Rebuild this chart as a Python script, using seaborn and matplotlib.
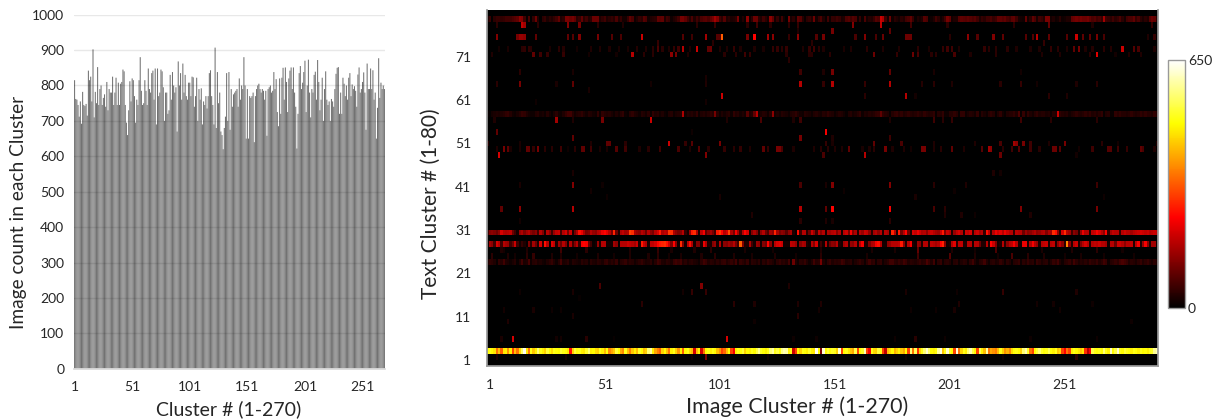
# import libraries
import numpy as np
import matplotlib
matplotlib.use('Agg')
import matplotlib.pyplot as plt
from matplotlib.colors import LinearSegmentedColormap
import seaborn as sns

# image count per cluster
image_counts = [
    815, 762, 760, 745, 712, 755, 692, 782, 745, 742,
    748, 715, 842, 815, 825, 755, 902, 710, 782, 750,
    852, 745, 790, 800, 745, 765, 775, 740, 810, 730,
    790, 780, 780, 825, 745, 780, 822, 745, 808, 745,
    805, 810, 845, 840, 745, 695, 660, 730, 812, 755,
    820, 815, 770, 695, 760, 745, 815, 880, 785, 745,
    750, 815, 785, 745, 848, 790, 780, 835, 842, 760,
    848, 690, 848, 770, 780, 845, 840, 795, 700, 780,
    780, 720, 730, 830, 760, 838, 800, 780, 795, 670,
    868, 800, 835, 760, 862, 780, 830, 770, 760, 808,
    808, 770, 825, 823, 740, 770, 822, 700, 790, 760,
    792, 690, 755, 745, 770, 735, 770, 835, 843, 770,
    745, 690, 907, 680, 838, 750, 780, 670, 660, 620,
    680, 712, 835, 700, 838, 675, 790, 740, 775, 780,
    785, 790, 740, 820, 760, 800, 790, 880, 800, 650,
    790, 650, 770, 765, 770, 780, 640, 770, 790, 800,
    805, 790, 780, 790, 785, 760, 785, 658, 790, 795,
    800, 780, 785, 838, 790, 818, 725, 685, 820, 720,
    822, 850, 760, 851, 810, 725, 820, 842, 851, 790,
    851, 780, 740, 622, 720, 835, 855, 790, 808, 838,
    870, 725, 800, 873, 780, 710, 790, 780, 830, 839,
    760, 872, 810, 730, 760, 822, 700, 790, 840, 760,
    745, 755, 700, 762, 755, 740, 790, 833, 850, 852,
    720, 780, 720, 822, 805, 770, 800, 760, 822, 835,
    770, 803, 790, 798, 785, 740, 831, 851, 780, 790,
    810, 837, 780, 675, 862, 790, 790, 848, 790, 843,
    760, 780, 650, 737, 877, 765, 808, 790, 800, 790,
]

n_rows = 60
n_cols = 292

# rows of the heat map that are filled nearly all the way across (row 0 is the top row)
row_01 = [
    30, 50, 0, 40, 50, 50, 45, 50, 60, 60, 60, 70, 80, 90, 130, 120, 60, 10, 70, 0,
    45, 100, 30, 0, 40, 50, 25, 40, 30, 45, 60, 90, 30, 40, 110, 110, 100, 110, 90, 40,
    50, 90, 40, 60, 30, 40, 100, 100, 100, 30, 45, 60, 30, 40, 50, 35, 70, 30, 50, 20,
    20, 50, 90, 70, 15, 30, 50, 40, 80, 70, 20, 30, 35, 40, 90, 85, 90, 30, 60, 50,
    15, 30, 40, 60, 110, 110, 90, 60, 35, 70, 30, 60, 40, 70, 80, 85, 70, 90, 110, 150,
    120, 60, 40, 80, 30, 40, 25, 30, 40, 110, 10, 30, 10, 130, 15, 40, 100, 100, 40, 30,
    60, 40, 20, 130, 90, 20, 50, 15, 60, 20, 0, 110, 25, 40, 15, 90, 80, 35, 10, 40,
    50, 30, 100, 20, 50, 70, 30, 10, 60, 15, 50, 45, 60, 50, 25, 30, 70, 80, 60, 80,
    70, 15, 50, 10, 70, 20, 35, 30, 50, 80, 70, 190, 160, 60, 20, 100, 15, 40, 30, 20,
    40, 30, 60, 70, 90, 50, 10, 30, 20, 30, 80, 70, 10, 15, 30, 60, 40, 15, 30, 60,
    110, 90, 20, 30, 30, 80, 90, 85, 80, 90, 80, 70, 80, 60, 30, 50, 40, 60, 60, 70,
    50, 60, 90, 90, 80, 90, 70, 60, 85, 90, 60, 25, 20, 15, 90, 20, 40, 90, 70, 25,
    60, 50, 30, 110, 110, 20, 30, 15, 20, 40, 15, 20, 30, 30, 90, 100, 110, 100, 110, 100,
    100, 110, 90, 70, 80, 60, 70, 50, 150, 60, 50, 40, 60, 40, 50, 70, 40, 20, 60, 70,
    70, 90, 50, 70, 40, 25, 40, 30, 80, 100, 90, 40,
]
row_17 = [
    10, 5, 20, 25, 30, 25, 30, 35, 45, 50, 35, 20, 15, 25, 35, 50, 45, 30, 20, 15,
    15, 30, 35, 20, 25, 15, 35, 20, 10, 25, 40, 20, 15, 30, 45, 60, 60, 35, 20, 30,
    35, 45, 30, 20, 35, 30, 20, 15, 45, 15, 45, 35, 30, 35, 25, 15, 30, 20, 35, 45,
    15, 10, 35, 45, 30, 25, 15, 35, 30, 20, 35, 15, 45, 30, 35, 20, 30, 15, 10, 30,
    35, 15, 25, 30, 35, 160, 20, 35, 30, 35, 25, 45, 15, 30, 35, 25, 35, 45, 35, 110,
    35, 15, 30, 20, 30, 35, 15, 45, 30, 35, 20, 30, 20, 80, 30, 35, 90, 170, 20, 25,
    35, 30, 15, 35, 130, 20, 30, 20, 35, 30, 25, 15, 30, 35, 45, 30, 20, 15, 35, 30,
    25, 15, 30, 35, 25, 20, 35, 30, 45, 35, 30, 15, 25, 35, 30, 20, 10, 30, 35, 20,
    25, 35, 45, 15, 30, 25, 35, 30, 35, 45, 50, 90, 45, 35, 30, 10, 35, 45, 50, 35,
    45, 30, 35, 45, 35, 30, 35, 45, 35, 30, 45, 35, 30, 35, 45, 10, 35, 30, 45, 15,
    15, 35, 35, 45, 35, 10, 45, 45, 15, 25, 35, 30, 20, 45, 10, 35, 25, 15, 35, 45,
    35, 10, 30, 45, 20, 10, 30, 35, 35, 45, 30, 70, 10, 50, 15, 45, 30, 20, 35, 45,
    30, 35, 35, 25, 30, 15, 35, 30, 190, 45, 35, 30, 35, 20, 30, 35, 45, 35, 30, 35,
    45, 35, 45, 30, 35, 25, 35, 45, 10, 30, 35, 10, 10, 45, 35, 45, 35, 35, 30, 35,
    45, 35, 30, 35, 45, 35, 45, 35, 35, 30, 45, 35,
]
row_37 = [
    60, 120, 130, 120, 100, 130, 200, 170, 160, 170, 180, 100, 60, 20, 140, 160, 120, 150, 170, 130,
    110, 130, 60, 170, 120, 30, 170, 130, 60, 140, 180, 190, 70, 170, 200, 110, 190, 30, 110, 160,
    250, 220, 160, 110, 120, 170, 140, 130, 170, 180, 220, 240, 210, 170, 110, 270, 100, 30, 160, 180,
    150, 160, 300, 280, 160, 140, 130, 170, 150, 100, 170, 130, 110, 170, 200, 260, 160, 180, 170, 290,
    280, 160, 130, 110, 120, 170, 50, 20, 140, 260, 280, 160, 30, 180, 230, 90, 130, 150, 110, 60,
    260, 290, 240, 170, 200, 300, 160, 110, 230, 150, 60, 170, 240, 200, 20, 120, 160, 120, 30, 130,
    170, 100, 70, 150, 130, 270, 150, 110, 130, 120, 80, 130, 150, 30, 10, 250, 60, 170, 170, 40,
    100, 190, 140, 60, 180, 130, 170, 30, 160, 150, 170, 180, 120, 160, 20, 170, 190, 110, 230, 120,
    160, 30, 170, 140, 190, 180, 130, 40, 150, 170, 130, 170, 30, 170, 150, 20, 270, 170, 30, 260,
    110, 170, 240, 100, 30, 200, 180, 220, 190, 160, 170, 130, 180, 190, 170, 150, 140, 190, 260, 120,
    190, 170, 30, 140, 180, 200, 170, 30, 190, 180, 200, 40, 170, 190, 150, 170, 50, 250, 180, 40,
    170, 220, 190, 210, 170, 220, 190, 170, 170, 50, 180, 170, 170, 100, 150, 120, 130, 150, 170, 130,
    140, 160, 170, 120, 160, 150, 280, 250, 130, 40, 200, 280, 170, 150, 60, 130, 110, 30, 140, 220,
    170, 170, 30, 180, 190, 230, 200, 170, 130, 240, 50, 150, 180, 170, 170, 50, 170, 190, 170, 170,
    150, 170, 180, 190, 200, 190, 180, 190, 170, 180, 190, 180,
]
row_39 = [
    20, 150, 130, 60, 200, 170, 60, 170, 150, 140, 60, 100, 190, 60, 20, 50, 30, 10, 120, 40,
    150, 100, 30, 200, 40, 250, 170, 10, 210, 180, 30, 150, 100, 170, 120, 20, 170, 60, 120, 170,
    50, 230, 240, 230, 100, 60, 10, 20, 140, 30, 170, 170, 20, 20, 20, 150, 130, 10, 170, 170,
    170, 190, 180, 170, 150, 190, 30, 260, 190, 160, 30, 180, 180, 200, 240, 260, 270, 280, 250, 190,
    120, 240, 130, 20, 280, 120, 20, 170, 250, 160, 20, 120, 120, 30, 220, 160, 30, 20, 120, 140,
    20, 170, 20, 130, 120, 150, 130, 170, 110, 60, 330, 120, 30, 30, 160, 60, 20, 140, 130, 20,
    120, 100, 240, 130, 20, 170, 200, 210, 190, 20, 20, 20, 180, 170, 140, 10, 130, 160, 150, 30,
    20, 170, 120, 200, 20, 60, 20, 170, 30, 100, 130, 120, 170, 30, 20, 150, 170, 30, 140, 130,
    170, 30, 170, 230, 30, 30, 120, 160, 170, 230, 250, 170, 20, 20, 130, 140, 170, 170, 170, 180,
    260, 130, 30, 170, 230, 30, 20, 140, 130, 30, 170, 170, 30, 180, 170, 150, 170, 240, 270, 130,
    20, 30, 170, 210, 40, 170, 180, 30, 30, 170, 170, 20, 170, 170, 100, 30, 30, 170, 30, 240,
    190, 120, 20, 30, 170, 40, 130, 170, 180, 230, 170, 30, 20, 220, 220, 30, 170, 230, 170, 140,
    30, 170, 180, 190, 30, 170, 180, 30, 130, 180, 130, 40, 370, 130, 30, 170, 190, 30, 120, 170,
    200, 170, 30, 170, 180, 170, 190, 170, 170, 150, 20, 170, 170, 100, 190, 190, 170, 130, 170, 170,
    180, 30, 170, 230, 30, 140, 230, 130, 30, 150, 150, 20,
]
row_42 = [
    30, 45, 40, 30, 10, 45, 35, 60, 30, 25, 15, 25, 35, 10, 30, 60, 25, 30, 65, 15,
    35, 40, 25, 30, 20, 15, 30, 40, 50, 30, 15, 35, 65, 25, 30, 40, 15, 35, 30, 25,
    20, 40, 30, 35, 15, 40, 30, 25, 40, 35, 25, 45, 50, 30, 40, 30, 50, 15, 35, 40,
    50, 30, 40, 35, 20, 30, 40, 50, 35, 25, 30, 40, 15, 35, 60, 50, 30, 25, 40, 35,
    25, 50, 60, 50, 60, 30, 40, 25, 35, 40, 30, 25, 15, 40, 60, 50, 30, 40, 35, 25,
    40, 30, 45, 50, 30, 40, 50, 35, 60, 20, 50, 40, 30, 50, 15, 40, 35, 25, 40, 15,
    40, 30, 50, 40, 30, 15, 40, 50, 35, 40, 30, 60, 10, 100, 30, 15, 40, 35, 50, 30,
    15, 30, 60, 35, 40, 110, 30, 15, 40, 50, 30, 40, 35, 40, 60, 50, 30, 35, 40, 15,
    30, 40, 50, 35, 15, 40, 60, 40, 45, 15, 40, 45, 15, 30, 40, 60, 60, 40, 35, 50,
    40, 60, 50, 30, 40, 35, 30, 40, 50, 35, 40, 70, 50, 30, 60, 10, 40, 50, 15, 35,
    40, 30, 10, 35, 40, 15, 30, 40, 35, 15, 40, 60, 30, 15, 35, 40, 60, 30, 15, 35,
    40, 25, 30, 50, 35, 15, 40, 30, 10, 35, 40, 50, 15, 40, 30, 50, 35, 40, 15, 50,
    40, 25, 35, 40, 15, 30, 50, 40, 60, 30, 15, 35, 40, 50, 30, 60, 40, 25, 35, 30,
    40, 30, 50, 40, 35, 50, 30, 40, 60, 50, 15, 35, 40, 50, 40, 60, 70, 60, 50, 30,
    40, 35, 25, 40, 50, 30, 40, 50, 35, 25, 40, 30,
]
row_57 = [
    490, 500, 480, 460, 350, 420, 330, 460, 470, 380, 470, 300, 420, 350, 450, 550, 640, 460, 350, 500,
    430, 470, 560, 500, 470, 440, 520, 480, 450, 500, 490, 480, 520, 500, 490, 460, 250, 440, 520, 490,
    500, 470, 460, 510, 560, 470, 480, 450, 440, 500, 470, 420, 490, 370, 400, 430, 520, 480, 400, 370,
    500, 420, 360, 430, 470, 420, 510, 480, 420, 440, 560, 590, 470, 400, 360, 330, 440, 480, 420, 350,
    470, 500, 440, 380, 470, 330, 480, 500, 450, 420, 200, 420, 470, 200, 350, 480, 500, 470, 500, 480,
    420, 380, 300, 340, 420, 480, 300, 230, 470, 500, 490, 520, 440, 480, 470, 500, 480, 530, 580, 510,
    490, 470, 500, 560, 590, 500, 530, 490, 570, 600, 590, 470, 500, 190, 300, 480, 440, 500, 490, 470,
    510, 470, 460, 640, 480, 120, 620, 480, 520, 490, 510, 500, 440, 620, 300, 480, 500, 460, 430, 400,
    530, 300, 480, 510, 600, 300, 230, 500, 450, 440, 520, 500, 300, 180, 420, 450, 480, 410, 440, 470,
    430, 400, 480, 300, 560, 350, 540, 280, 440, 500, 560, 620, 550, 480, 470, 490, 590, 630, 430, 500,
    620, 510, 480, 300, 620, 350, 440, 500, 470, 560, 600, 530, 480, 300, 540, 470, 420, 590, 350, 400,
    380, 360, 420, 500, 440, 380, 410, 370, 450, 490, 500, 480, 440, 560, 600, 510, 350, 300, 480, 520,
    560, 510, 490, 500, 540, 490, 470, 500, 430, 450, 300, 240, 350, 300, 470, 500, 480, 460, 430, 460,
    280, 170, 230, 530, 500, 490, 500, 480, 560, 500, 470, 610, 480, 530, 620, 500, 480, 520, 500, 490,
    470, 500, 490, 470, 500, 480, 490, 470, 500, 510, 580, 600,
]

# rows with only a few lit cells, as (column, value)
row_02 = [(4, 40), (15, 180), (16, 150), (22, 40), (35, 120), (40, 110), (48, 40), (59, 30), (91, 40), (99, 50),
          (113, 40), (117, 60), (123, 40), (131, 40), (135, 50), (159, 120), (171, 180), (184, 60), (200, 40),
          (229, 40), (244, 90), (263, 30), (289, 50)]
row_03 = [(135, 30), (150, 110), (175, 90)]
row_04 = [(4, 120), (13, 110), (14, 140), (15, 140), (16, 130), (21, 90), (35, 90), (37, 80), (40, 120), (48, 110),
          (54, 80), (58, 70), (67, 190), (85, 80), (89, 60), (95, 150), (100, 80), (101, 80), (102, 330), (113, 110),
          (116, 240), (122, 150), (124, 130), (131, 50), (135, 130), (143, 80), (146, 110), (160, 70), (164, 120),
          (169, 70), (172, 100), (182, 100), (183, 100), (184, 100), (201, 40), (209, 130), (213, 80), (220, 120),
          (224, 90), (234, 80), (237, 80), (239, 170), (244, 90), (252, 80), (256, 190), (259, 90), (262, 90),
          (265, 110), (268, 70), (287, 30), (290, 50)]
row_05 = [(74, 50), (98, 40), (141, 40), (242, 50)]
row_06 = [(5, 20), (9, 25), (15, 40), (16, 45), (18, 45), (19, 40), (27, 25), (31, 40), (33, 35), (39, 20), (45, 30),
          (49, 30), (53, 30), (57, 25), (61, 25), (65, 35), (69, 30), (72, 40), (74, 70), (76, 40), (79, 30), (81, 50),
          (83, 60), (85, 170), (88, 30), (91, 190), (96, 90), (97, 100), (101, 30), (104, 30), (107, 50), (110, 30),
          (116, 30), (120, 25), (124, 50), (126, 50), (128, 40), (130, 50), (137, 30), (140, 50), (142, 60), (144, 40),
          (146, 30), (155, 25), (158, 30), (165, 40), (172, 30), (179, 30), (187, 40), (192, 25), (198, 50), (200, 60),
          (202, 60), (205, 30), (216, 50), (218, 40), (221, 40), (226, 40), (230, 30), (236, 30), (240, 30), (245, 50),
          (248, 40), (252, 30), (255, 90), (257, 110), (260, 30), (263, 35), (268, 40), (271, 35), (276, 190), (281, 80),
          (283, 70), (290, 30)]
row_07 = [(2, 30), (20, 90), (23, 60), (26, 50), (33, 50), (44, 20), (56, 20), (63, 170), (68, 40), (72, 40), (80, 130),
          (82, 110), (87, 30), (103, 40), (108, 40), (112, 60), (114, 50), (130, 40), (140, 40), (141, 40), (149, 40),
          (168, 100), (178, 50), (185, 100), (187, 70), (193, 40), (195, 40), (203, 70), (210, 30), (221, 40), (241, 30),
          (249, 30), (262, 40), (265, 210), (273, 20), (279, 30), (284, 30)]
row_08 = [(131, 40)]
row_10 = [(14, 40), (37, 25), (136, 60), (146, 30), (150, 110), (175, 90), (194, 25), (232, 20)]
row_11 = [(95, 25)]
row_12 = [(4, 40), (14, 110), (30, 25), (37, 90), (71, 20), (95, 30), (136, 170), (146, 50), (150, 170), (164, 50),
          (175, 170), (189, 35), (194, 40), (202, 30), (223, 40), (232, 50), (239, 20), (256, 30), (265, 40)]
row_13 = [(44, 25)]
row_14 = [(102, 190), (164, 40), (182, 170), (186, 20), (244, 40), (252, 30)]
row_15 = [(21, 15), (95, 20)]
row_18 = [(3, 30), (30, 150), (37, 30), (50, 110), (71, 190), (104, 30), (119, 70), (133, 30), (136, 60), (175, 30),
          (194, 60), (198, 40), (202, 50), (232, 60), (245, 40), (265, 40)]
row_20 = [(4, 90), (89, 15), (147, 230)]
row_21 = [(37, 90), (136, 110), (150, 30), (175, 60)]
row_22 = [(0, 40), (14, 25), (45, 30), (52, 90), (53, 90), (60, 40), (79, 190), (86, 50), (89, 80), (101, 110), (147, 50),
          (150, 25), (168, 90), (180, 70), (194, 30), (212, 30), (223, 70), (229, 150), (230, 130), (233, 110), (236, 60),
          (244, 30), (251, 110), (267, 40), (274, 20), (291, 30)]
row_23 = [(4, 30), (7, 110), (9, 90), (10, 25), (14, 25), (17, 90), (18, 90), (20, 50), (22, 110), (25, 40), (28, 40), (32, 60),
          (35, 15), (38, 40), (41, 90), (42, 90), (45, 60), (49, 25), (52, 25), (56, 80), (60, 60), (66, 30), (70, 40),
          (75, 60), (83, 70), (88, 30), (92, 80), (96, 40), (103, 50), (107, 40), (110, 50), (114, 30), (120, 90), (122, 50),
          (126, 110), (127, 110), (128, 70), (133, 30), (142, 30), (145, 40), (148, 40), (151, 30), (154, 30), (157, 90),
          (163, 25), (166, 30), (168, 40), (173, 110), (176, 30), (181, 30), (184, 20), (189, 110), (190, 110), (194, 30),
          (197, 40), (202, 90), (207, 30), (215, 80), (218, 150), (219, 130), (224, 40), (228, 60), (231, 80), (236, 60),
          (240, 40), (246, 100), (247, 100), (249, 80), (257, 20), (263, 60), (270, 80), (271, 80), (274, 60), (278, 50),
          (284, 90), (285, 70), (290, 30)]
row_24 = [(5, 200), (95, 120), (146, 70), (164, 170), (223, 100), (256, 20)]
row_27 = [(37, 25), (220, 30), (223, 20)]
row_29 = [(14, 25), (37, 120), (50, 15), (136, 70), (147, 25), (150, 120), (175, 120), (194, 40), (208, 30), (265, 60)]
row_30 = [(45, 20), (155, 15), (203, 15)]
row_31 = [(52, 15), (101, 25), (186, 25), (268, 15)]
row_33 = [(6, 90), (14, 130), (37, 170), (136, 170), (147, 90), (150, 240), (175, 230), (194, 70), (199, 40), (232, 120),
          (265, 110)]
row_34 = [(115, 30), (199, 30), (206, 30), (212, 15), (236, 30)]
row_35 = [(14, 20), (136, 40), (147, 30), (150, 25), (175, 40)]
row_40 = [(6, 30), (7, 20), (17, 30), (32, 60), (43, 40), (62, 30), (74, 50), (80, 25), (90, 30), (97, 40), (112, 25), (124, 20),
          (145, 30), (167, 25), (177, 25), (187, 90), (202, 30), (212, 20), (221, 70), (241, 25), (254, 30), (265, 40), (276, 20)]
row_41 = [(2, 40), (9, 30), (12, 20), (17, 40), (20, 50), (28, 30), (32, 30), (39, 20), (48, 30), (55, 20), (62, 30), (70, 30),
          (74, 40), (79, 20), (84, 25), (93, 30), (99, 40), (107, 30), (115, 25), (125, 30), (134, 20), (145, 40), (165, 25),
          (187, 60), (201, 80), (212, 30), (222, 20), (228, 70), (235, 40), (242, 30), (251, 20), (258, 25), (268, 20), (281, 20)]
row_46 = [(49, 70), (93, 120), (131, 30)]
row_47 = [(14, 15), (37, 25), (85, 20), (89, 50), (95, 50), (182, 25), (204, 15), (224, 50), (256, 30)]
row_48 = [(40, 10)]
row_49 = [(67, 40), (107, 40), (116, 30), (135, 30), (145, 30), (205, 30), (239, 20), (246, 20), (263, 15)]
row_50 = [(7, 20), (20, 25), (28, 15), (32, 15), (144, 20), (184, 15), (195, 15), (203, 25), (249, 20)]
row_51 = [(37, 25), (135, 40)]
row_52 = [(9, 30), (116, 15), (280, 15)]
row_55 = [(6, 25), (11, 200), (30, 20), (32, 20), (43, 40), (55, 10), (104, 200), (133, 15), (143, 15), (177, 15), (186, 40),
          (199, 15), (236, 15), (265, 15)]
row_58 = [(4, 25), (34, 20), (89, 15), (95, 110), (122, 15), (182, 15), (224, 15), (256, 40)]

dense_rows = {1: row_01, 17: row_17, 37: row_37, 39: row_39, 42: row_42, 57: row_57}
sparse_rows = {2: row_02, 3: row_03, 4: row_04, 5: row_05, 6: row_06, 7: row_07, 8: row_08, 10: row_10, 11: row_11,
               12: row_12, 13: row_13, 14: row_14, 15: row_15, 18: row_18, 20: row_20, 21: row_21, 22: row_22,
               23: row_23, 24: row_24, 27: row_27, 29: row_29, 30: row_30, 31: row_31, 33: row_33, 34: row_34,
               35: row_35, 40: row_40, 41: row_41, 46: row_46, 47: row_47, 48: row_48, 49: row_49, 50: row_50,
               51: row_51, 52: row_52, 55: row_55, 58: row_58}

bar_yticks = list(range(0, 1001, 100))
heat_xlabels = [1, 51, 101, 151, 201, 251]
heat_ylabels = [1, 11, 21, 31, 41, 51, 61, 71]

# build the matrix for the heat map
matrix = np.zeros((n_rows, n_cols))
for r, vals in dense_rows.items():
    matrix[r, :len(vals)] = vals[:n_cols]
for r, cells in sparse_rows.items():
    for c, v in cells:
        matrix[r, c] = v

W, H = 1216, 419
def px_axes(fig, x0, y0, x1, y1):
    # axes from pixel box, y counted from the top of the image
    return fig.add_axes([x0 / W, 1 - y1 / H, (x1 - x0) / W, (y1 - y0) / H])

sns.set_theme(style='white')
plt.rcParams['font.family'] = ['Lato', 'DejaVu Sans']
text_color = '#262626'

# black, red, yellow, white with a pure black start
black_hot = LinearSegmentedColormap.from_list('black_hot', [(0, 'black'), (0.365, 'red'), (0.746, 'yellow'), (1, 'white')])

fig = plt.figure(figsize=(W / 100, H / 100), dpi=100)

### Left chart: image count in each cluster
ax_bar = px_axes(fig, 74, 14.7, 385, 368.7)
sns.barplot(x=list(range(len(image_counts))), y=image_counts, color='#727272', saturation=1, width=0.9,
            linewidth=0, ax=ax_bar, zorder=2)
# no pixel snapping, so the narrow bars blend into soft stripes
for bar in ax_bar.patches:
    bar.set_snap(False)
ax_bar.set_xlim(-0.5, len(image_counts) - 0.5)
ax_bar.set_ylim(0, 1000)
ax_bar.set_yticks(bar_yticks)
ax_bar.set_yticklabels([str(v) for v in bar_yticks], fontsize=10, color=text_color)
ax_bar.set_xticks([v - 1 for v in heat_xlabels])
ax_bar.set_xticklabels([str(v) for v in heat_xlabels], fontsize=10, color=text_color)
ax_bar.tick_params(axis='both', length=0, pad=7)
ax_bar.tick_params(axis='x', pad=9)
for v in bar_yticks[1:]:
    ax_bar.axhline(v, color='black', alpha=0.09, linewidth=1, zorder=3)
sns.despine(ax=ax_bar, left=True, top=True, right=True)
ax_bar.spines['bottom'].set_color('#d9d9d9')
ax_bar.set_xlabel('')
ax_bar.set_ylabel('')
fig.text(229 / W, 1 - 409 / H, 'Cluster # (1-270)', ha='center', va='center', fontsize=14, color=text_color)
fig.text(19 / W, 1 - 212 / H, 'Image count in each Cluster', ha='center', va='center', rotation=90, fontsize=13.8,
         color=text_color)

### Right chart: text cluster against image cluster
ax_heat = px_axes(fig, 486.5, 10, 1158, 366)
ax_cbar = px_axes(fig, 1168, 60, 1185, 308)
sns.heatmap(matrix, cmap=black_hot, vmin=0, vmax=650, ax=ax_heat, cbar_ax=ax_cbar, xticklabels=False, yticklabels=False)
ax_heat.set_xticks([v + 0.5 for v in heat_xlabels])
ax_heat.set_xticklabels([str(v) for v in heat_xlabels], fontsize=10, color=text_color, rotation=0)
ax_heat.set_yticks([59.0 - (v - 1) * 0.7303 for v in heat_ylabels])
ax_heat.set_yticklabels([str(v) for v in heat_ylabels], fontsize=10, color=text_color, rotation=0)
ax_heat.tick_params(axis='both', length=0)
ax_heat.tick_params(axis='x', pad=9)
ax_heat.tick_params(axis='y', pad=11)
for side in ['left', 'bottom', 'right']:
    ax_heat.spines[side].set_visible(True)
    ax_heat.spines[side].set_color('#999999')
ax_heat.spines['top'].set_visible(False)
fig.text(797 / W, 1 - 407 / H, 'Image Cluster # (1-270)', ha='center', va='center', fontsize=15.4, color=text_color)
fig.text(431 / W, 1 - 204 / H, 'Text Cluster # (1-80)', ha='center', va='center', rotation=90, fontsize=15,
         color=text_color)

# colour bar: ticks every 65, only the ends are labelled
cbar = ax_heat.collections[0].colorbar
cbar_ticks = list(range(0, 651, 65))
cbar.set_ticks(cbar_ticks)
cbar.set_ticklabels(['0' if v == 0 else '650' if v == 650 else '' for v in cbar_ticks])
ax_cbar.tick_params(axis='y', length=3, width=0.6, direction='in', color='#333333', labelsize=10, labelcolor=text_color,
                    left=True, right=True, pad=2)
cbar.outline.set_visible(True)
cbar.outline.set_edgecolor('#999999')
cbar.outline.set_linewidth(1)

fig.savefig('out.png', dpi=100)
